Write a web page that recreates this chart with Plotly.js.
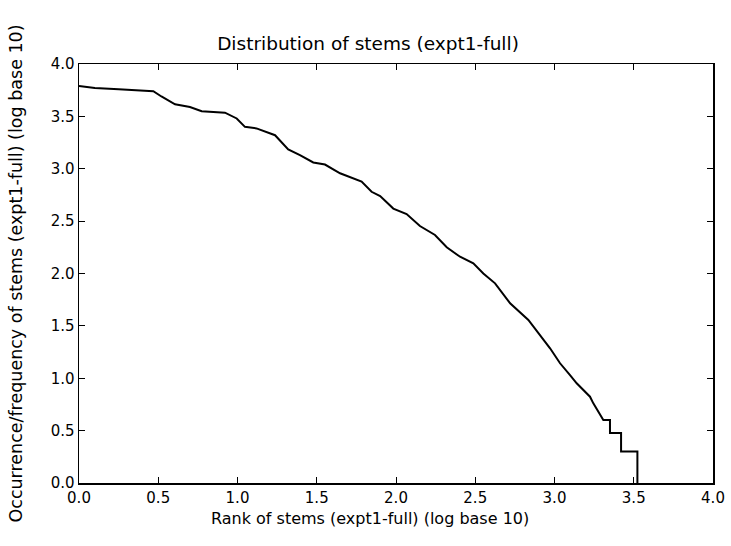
<!DOCTYPE html>
<html>
<head>
<meta charset="utf-8">
<script src="https://cdn.plot.ly/plotly-3.0.1.min.js"></script>
<style>html,body{margin:0;padding:0;background:#fff;}#chart{width:731px;height:546px;}</style>
</head>
<body>
<div id="chart"></div>
<script>
// log10(rank) of stems
const rankLog = [0.00, 0.10, 0.25, 0.40, 0.469, 0.52, 0.606, 0.70, 0.774, 0.921, 0.995, 1.047, 1.12, 1.237, 1.32, 1.394, 1.478, 1.552, 1.647, 1.783, 1.846, 1.90, 1.983, 2.067, 2.151, 2.246, 2.32, 2.404, 2.488, 2.551, 2.625, 2.72, 2.835, 2.972, 3.035, 3.098, 3.14, 3.224, 3.245, 3.308, 3.35, 3.35, 3.42, 3.42, 3.523, 3.523];
// log10(frequency) of stems
const freqLog = [3.79, 3.77, 3.76, 3.745, 3.74, 3.69, 3.615, 3.59, 3.55, 3.535, 3.48, 3.40, 3.385, 3.32, 3.185, 3.13, 3.06, 3.04, 2.957, 2.877, 2.78, 2.74, 2.62, 2.568, 2.453, 2.368, 2.25, 2.16, 2.097, 2.0, 1.906, 1.716, 1.556, 1.286, 1.143, 1.03, 0.952, 0.824, 0.76, 0.602, 0.602, 0.477, 0.477, 0.301, 0.301, 0.0];
const xTickVals = [0, 0.5, 1, 1.5, 2, 2.5, 3, 3.5, 4];
const yTickVals = [0, 0.5, 1, 1.5, 2, 2.5, 3, 3.5, 4];
const titleText = 'Distribution of stems (expt1-full)';
const xTitleText = 'Rank of stems (expt1-full) (log base 10)';
const yTitleText = 'Occurrence/frequency of stems (expt1-full) (log base 10)';

const font = 'DejaVu Sans, sans-serif';
const axisCommon = {
  range: [0, 4], showgrid: false, zeroline: false,
  showline: true, linecolor: '#000', linewidth: 1.5, mirror: 'ticks',
  ticks: 'inside', ticklen: 6, tickwidth: 1, tickcolor: '#000',
  tickformat: '.1f', tickfont: {family: font, size: 15, color: '#000'},
  automargin: false
};
const layout = {
  width: 731, height: 546,
  margin: {l: 79, r: 18, t: 64, b: 63},
  paper_bgcolor: '#fff', plot_bgcolor: '#fff',
  showlegend: false,
  title: {text: titleText, font: {family: font, size: 18.5, color: '#000'},
          x: 368/731, xref: 'container', xanchor: 'center', y: 1 - 44/546, yanchor: 'middle', yref: 'container'},
  xaxis: Object.assign({}, axisCommon, {tickvals: xTickVals}),
  yaxis: Object.assign({}, axisCommon, {tickvals: yTickVals}),
  annotations: [
    {text: xTitleText, xref: 'paper', yref: 'paper', x: (370-79)/634, y: (483-518)/419,
     xanchor: 'center', yanchor: 'middle', showarrow: false, font: {family: font, size: 16, color: '#000'}},
    {text: yTitleText, xref: 'paper', yref: 'paper', x: (15-79)/634, y: 0.5, textangle: -90,
     xanchor: 'center', yanchor: 'middle', showarrow: false, font: {family: font, size: 17.5, color: '#000'}}
  ]
};
const trace = {x: rankLog, y: freqLog, type: 'scatter', mode: 'lines', line: {color: '#000', width: 2}, cliponaxis: false};
Plotly.newPlot('chart', [trace], layout, {displayModeBar: false, staticPlot: true});
</script>
</body>
</html>
